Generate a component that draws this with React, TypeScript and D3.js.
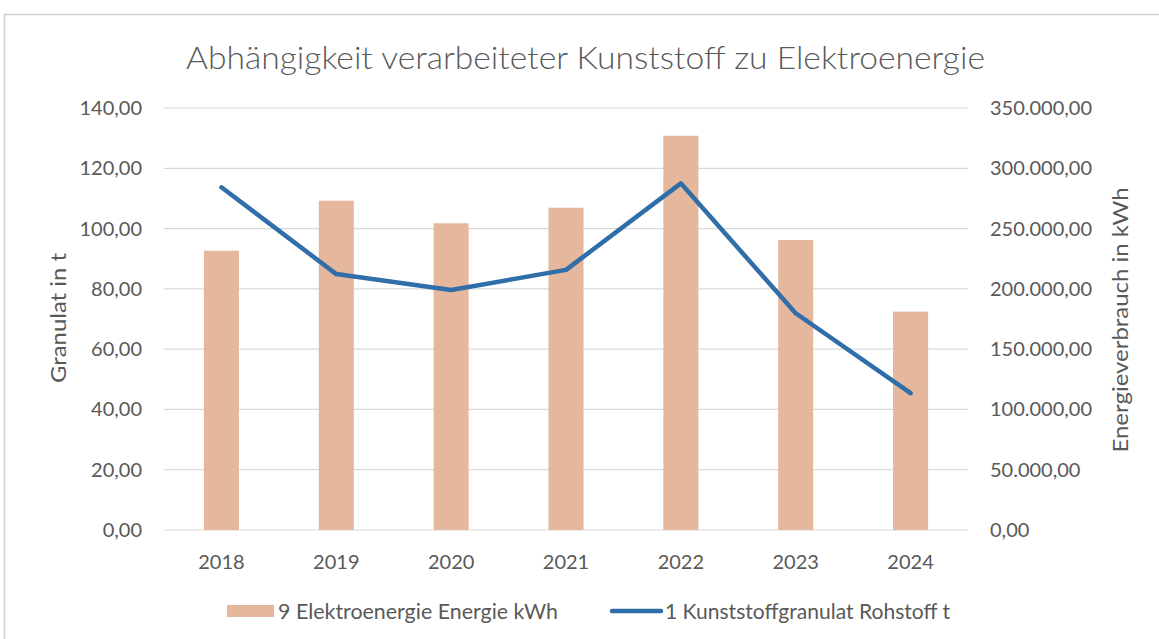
import React from "react";
import * as d3 from "d3";

const years = ["2018", "2019", "2020", "2021", "2022", "2023", "2024"];
const energyKWh = [231600, 273100, 254400, 267300, 327000, 240500, 181100];
const granulatT = [113.7, 84.9, 79.6, 86.3, 115.0, 71.9, 45.4];
const leftTicks = [0, 20, 40, 60, 80, 100, 120, 140];
const rightTicks = [0, 50000, 100000, 150000, 200000, 250000, 300000, 350000];

const title = "Abhängigkeit verarbeiteter Kunststoff zu Elektroenergie";
const leftTitle = "Granulat in t";
const rightTitle = "Energieverbrauch in kWh";
const barLabel = "9 Elektroenergie Energie kWh";
const lineLabel = "1 Kunststoffgranulat Rohstoff t";

const W = 1159;
const H = 639;
const M = { left: 164, right: 968, top: 108, bottom: 530 };
const FONT = "Lato, 'Open Sans', sans-serif";
const TXT = "#595959";
const BAR = "#E5B79C";
const LINE = "#2F6EA8";
const LEG_Y = 611;

const deLocale = d3.formatLocale({ decimal: ",", thousands: ".", grouping: [3], currency: ["", "€"] });
const fmt = deLocale.format(",.2f");

export default function App() {
  const x = d3.scaleBand<string>().domain(years).range([M.left, M.right]).paddingInner(0.695).paddingOuter(0.3475);
  const yL = d3.scaleLinear().domain([0, 140]).range([M.bottom, M.top]);
  const yR = d3.scaleLinear().domain([0, 350000]).range([M.bottom, M.top]);
  const cx = (d: string) => (x(d) ?? 0) + x.bandwidth() / 2;
  const line = d3
    .line<number>()
    .x((_, i) => cx(years[i]))
    .y((d) => yL(d));

  return (
    <div style={{ position: "fixed", left: 0, top: 0, width: W, height: H, background: "#fff" }}>
      <svg width={W} height={H} style={{ display: "block", fontFamily: FONT }}>
        <rect x={0} y={0} width={W} height={H} fill="#fff" />
        <rect x={4.5} y={14.5} width={W + 20} height={H + 20} fill="none" stroke="#d0d0d0" strokeWidth={1.5} />
        <text x={585.5} y={69} textAnchor="middle" fontSize={31} fill={TXT} fontWeight={300} textLength={799} lengthAdjust="spacingAndGlyphs">
          {title}
        </text>
        {leftTicks.map((t) => (
          <line key={"g" + t} x1={M.left} x2={M.right} y1={yL(t)} y2={yL(t)} stroke="#d9d9d9" strokeWidth={1.2} />
        ))}
        {leftTicks.map((t) => (
          <text key={"l" + t} x={142} y={yL(t)} dy="0.35em" textAnchor="end" fontSize={20} fill={TXT}>
            {fmt(t)}
          </text>
        ))}
        {rightTicks.map((t) => (
          <text key={"r" + t} x={990} y={yR(t)} dy="0.35em" textAnchor="start" fontSize={20} fill={TXT}>
            {fmt(t)}
          </text>
        ))}
        <text transform={`translate(66,318) rotate(-90)`} textAnchor="middle" fontSize={22} fill={TXT} textLength={130} lengthAdjust="spacingAndGlyphs">
          {leftTitle}
        </text>
        <text transform={`translate(1128,320) rotate(-90)`} textAnchor="middle" fontSize={22} fill={TXT} textLength={265} lengthAdjust="spacingAndGlyphs">
          {rightTitle}
        </text>
        {years.map((yr, i) => (
          <rect key={"b" + yr} x={x(yr)} y={yR(energyKWh[i])} width={x.bandwidth()} height={M.bottom - yR(energyKWh[i])} fill={BAR} />
        ))}
        <path d={line(granulatT) ?? ""} fill="none" stroke={LINE} strokeWidth={4.5} strokeLinejoin="round" strokeLinecap="round" />
        {years.map((yr) => (
          <text key={"x" + yr} x={cx(yr)} y={562} dy="0.35em" textAnchor="middle" fontSize={20} fill={TXT}>
            {yr}
          </text>
        ))}
        <rect x={227} y={LEG_Y - 6} width={47} height={12} fill={BAR} />
        <text x={278} y={LEG_Y} dy="0.35em" fontSize={22} fill={TXT} textLength={280} lengthAdjust="spacingAndGlyphs">
          {barLabel}
        </text>
        <line x1={612} x2={661} y1={LEG_Y} y2={LEG_Y} stroke={LINE} strokeWidth={4.5} strokeLinecap="round" />
        <text x={665} y={LEG_Y} dy="0.35em" fontSize={22} fill={TXT} textLength={285} lengthAdjust="spacingAndGlyphs">
          {lineLabel}
        </text>
      </svg>
    </div>
  );
}
